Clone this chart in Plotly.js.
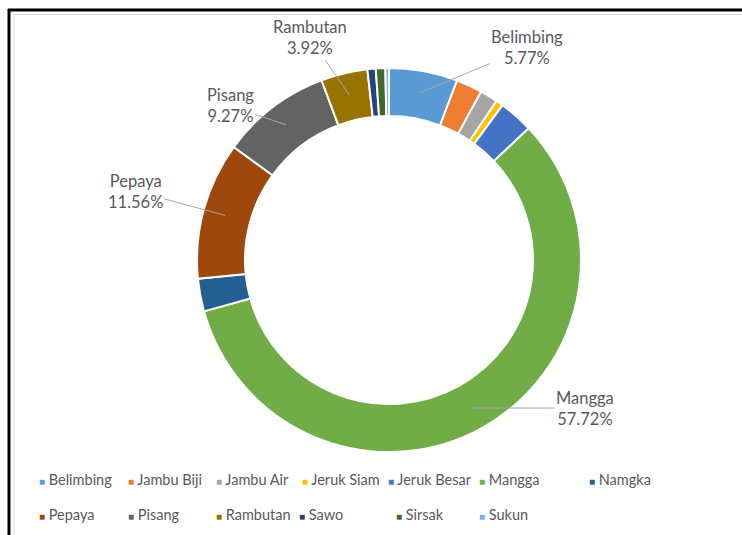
<!DOCTYPE html>
<html>
<head>
<meta charset="utf-8">
<script src="https://cdn.plot.ly/plotly-3.0.1.min.js"></script>
<style>
html,body{margin:0;padding:0;background:#fff;}
#chart{width:742px;height:535px;}
</style>
</head>
<body>
<div id="chart"></div>
<script>
// ---- data ----
const categories = ['Belimbing','Jambu Biji','Jambu Air','Jeruk Siam','Jeruk Besar','Mangga','Namgka','Pepaya','Pisang','Rambutan','Sawo','Sirsak','Sukun'];
const shares = [5.77, 2.2, 1.5, 0.6, 2.9, 57.72, 2.76, 11.56, 9.27, 3.92, 0.7, 0.8, 0.3];
const colors = ['#5B9BD5','#ED7D31','#A5A5A5','#FFC000','#4472C4','#70AD47','#255E91','#9E480E','#636363','#997300','#264478','#43682B','#7CAFDD'];
const labeledCategories = ['Rambutan','Belimbing','Pisang','Pepaya','Mangga'];

// ---- layout constants (pixels) ----
const W = 742, H = 535;
const CX = 389, CY = 260, R = 192;
const labelPos = {Rambutan:[310,38], Belimbing:[527,48], Pisang:[230,106], Pepaya:[135,191], Mangga:[585,408]};
const legendSlots = [[37,479],[126,479],[214,479],[300,479],[386,479],[477,479],[587,479],
                     [37,514],[126,514],[214,514],[297,514],[394,514],[477,514]];
const textColor = '#595959';
const fontFam = 'Lato, "Open Sans", sans-serif';

const total = shares.reduce((a,b)=>a+b,0);
let cum = 0;
const mids = shares.map(v => { const m = cum + v/2; cum += v; return m/total; });

const labelAnnotations = labeledCategories.map(name => {
  const i = categories.indexOf(name);
  const th = 2*Math.PI*mids[i];
  const r = R*0.885;
  const tx = CX + r*Math.sin(th), ty = CY - r*Math.cos(th);
  const lp = labelPos[name];
  return {
    x: tx/W, y: 1 - ty/H, xref:'paper', yref:'paper',
    ax: lp[0]-tx, ay: lp[1]-ty,
    showarrow:true, arrowhead:0, arrowwidth:1, arrowcolor:'#a6a6a6', standoff:0,
    text: name + '<br>' + shares[i].toFixed(2) + '%',
    font:{family:fontFam, size:16.5, color:textColor}, align:'center'
  };
});

const legendAnnotations = categories.map((name,i) => ({
  x: legendSlots[i][0]/W, y: 1 - legendSlots[i][1]/H, xref:'paper', yref:'paper',
  xanchor:'left', yanchor:'middle', showarrow:false,
  text: '<span style="color:' + colors[i] + ';font-size:10px">■</span> ' + name,
  font:{family:fontFam, size:14.5, color:textColor}
}));

const trace = {
  type:'pie',
  labels: categories,
  values: shares,
  sort:false,
  direction:'clockwise',
  rotation:0,
  hole:0.75,
  textinfo:'none',
  hoverinfo:'label+percent',
  showlegend:false,
  marker:{colors:colors, line:{color:'#ffffff', width:2}},
  domain:{x:[(CX-R)/W,(CX+R)/W], y:[1-(CY+R)/H, 1-(CY-R)/H]}
};

const layout = {
  width:W, height:H,
  margin:{l:0,r:0,t:0,b:0},
  paper_bgcolor:'#ffffff',
  font:{family:fontFam, color:textColor},
  showlegend:false,
  annotations: labelAnnotations.concat(legendAnnotations),
  shapes:[
    {type:'line', xref:'paper', yref:'paper', x0:8/W, x1:1.01, y0:1-10/H, y1:1-10/H, line:{color:'#000', width:3}},
    {type:'line', xref:'paper', yref:'paper', x0:9/W, x1:9/W, y0:1-9/H, y1:-0.01, line:{color:'#000', width:3}},
    {type:'line', xref:'paper', yref:'paper', x0:14/W, x1:1.01, y0:1-14.5/H, y1:1-14.5/H, line:{color:'#d9d9d9', width:1}},
    {type:'line', xref:'paper', yref:'paper', x0:14/W, x1:14/W, y0:1-14.5/H, y1:-0.01, line:{color:'#d9d9d9', width:1}}
  ]
};

Plotly.newPlot('chart',[trace],layout,{displayModeBar:false});
</script>
</body>
</html>
